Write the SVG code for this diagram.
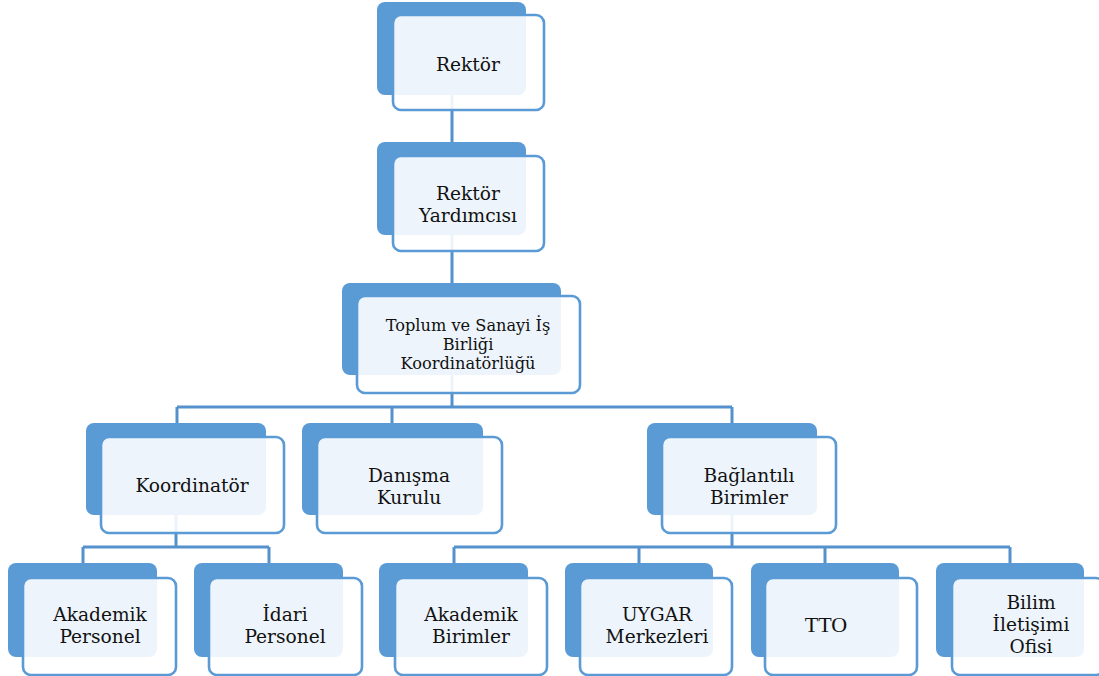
<svg xmlns="http://www.w3.org/2000/svg" width="1099" height="676" viewBox="0 0 1099 676">
<style>
.back{fill:#5b9bd5}
.front{fill:#ffffff;fill-opacity:0.89;stroke:#5b9bd5;stroke-width:2.6}
.conn{fill:none;stroke:#5592cd;stroke-width:3}
.t{font-family:"DejaVu Serif","Liberation Serif",serif;font-size:18.6px;fill:#111;text-anchor:middle}
.ts{font-size:16.2px}
.tt{font-family:"Liberation Serif",serif;font-size:22px}
</style>
<rect width="1099" height="676" fill="#ffffff"/>
<g id="connectors">
<path class="conn" d="M452 95V142M452 235V283M452 375V407M177 407H732M177 407V423M392 407V423M732 407V423"/>
<path class="conn" d="M176 515V547M83 547H269M83 547V563M269 547V563"/>
<path class="conn" d="M732 515V547M454 547H1010M454 547V563M639 547V563M825 547V563M1010 547V563"/>
</g>
<g id="n-rektor">
<rect class="back" x="377" y="2" width="149" height="93" rx="8"/>
<rect class="front" x="393" y="15" width="151" height="95" rx="8"/>
<text class="t" x="468" y="71">Rektör</text>
</g>
<g id="n-rektor-yard">
<rect class="back" x="377" y="142" width="149" height="93" rx="8"/>
<rect class="front" x="393" y="156" width="151" height="95" rx="8"/>
<text class="t" x="468" y="199.5">Rektör</text>
<text class="t" x="468" y="221.5">Yardımcısı</text>
</g>
<g id="n-koordinatorluk">
<rect class="back" x="342" y="283" width="219" height="92" rx="8"/>
<rect class="front" x="357" y="296" width="223" height="97" rx="8"/>
<text class="t ts" x="468" y="330.5">Toplum ve Sanayi İş</text>
<text class="t ts" x="468" y="349.5">Birliği</text>
<text class="t ts" x="468" y="368.5">Koordinatörlüğü</text>
</g>
<g id="n-koordinator">
<rect class="back" x="86" y="423" width="180" height="92" rx="8"/>
<rect class="front" x="101" y="437" width="183" height="96" rx="8"/>
<text class="t" x="192" y="492">Koordinatör</text>
</g>
<g id="n-danisma">
<rect class="back" x="302" y="423" width="181" height="92" rx="8"/>
<rect class="front" x="317" y="437" width="185" height="96" rx="8"/>
<text class="t" x="409" y="481.5">Danışma</text>
<text class="t" x="409" y="503.5">Kurulu</text>
</g>
<g id="n-baglantili">
<rect class="back" x="647" y="423" width="170" height="92" rx="8"/>
<rect class="front" x="662" y="437" width="174" height="96" rx="8"/>
<text class="t" x="749" y="481.5">Bağlantılı</text>
<text class="t" x="749" y="503.5">Birimler</text>
</g>
<g id="n-akademik-personel">
<rect class="back" x="8" y="563" width="149" height="94" rx="8"/>
<rect class="front" x="23" y="578" width="153" height="97" rx="8"/>
<text class="t" x="100" y="621">Akademik</text>
<text class="t" x="100" y="643">Personel</text>
</g>
<g id="n-idari-personel">
<rect class="back" x="194" y="563" width="149" height="94" rx="8"/>
<rect class="front" x="209" y="578" width="153" height="97" rx="8"/>
<text class="t" x="285" y="621">İdari</text>
<text class="t" x="285" y="643">Personel</text>
</g>
<g id="n-akademik-birimler">
<rect class="back" x="379" y="563" width="149" height="94" rx="8"/>
<rect class="front" x="395" y="578" width="152" height="97" rx="8"/>
<text class="t" x="471" y="621">Akademik</text>
<text class="t" x="471" y="643">Birimler</text>
</g>
<g id="n-uygar">
<rect class="back" x="565" y="563" width="148" height="94" rx="8"/>
<rect class="front" x="580" y="578" width="152" height="97" rx="8"/>
<text class="t" x="657" y="621">UYGAR</text>
<text class="t" x="657" y="643">Merkezleri</text>
</g>
<g id="n-tto">
<rect class="back" x="751" y="563" width="148" height="94" rx="8"/>
<rect class="front" x="765" y="578" width="152" height="97" rx="8"/>
<text class="t tt" x="826" y="632">TTO</text>
</g>
<g id="n-bilim">
<rect class="back" x="936" y="563" width="148" height="94" rx="8"/>
<rect class="front" x="952" y="578" width="152" height="97" rx="8"/>
<text class="t" x="1031" y="609">Bilim</text>
<text class="t" x="1031" y="631">İletişimi</text>
<text class="t" x="1031" y="653">Ofisi</text>
</g>
</svg>
